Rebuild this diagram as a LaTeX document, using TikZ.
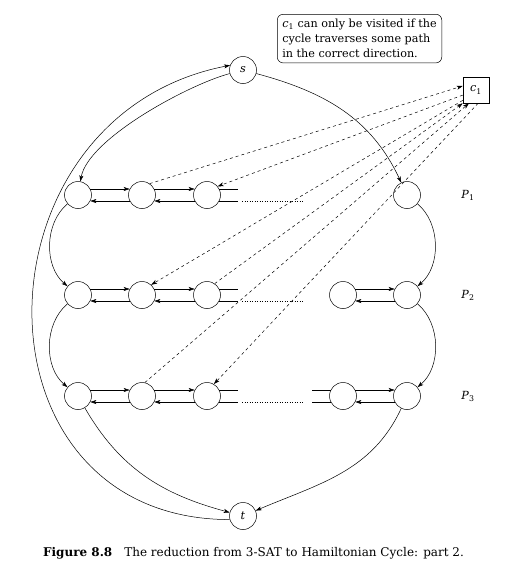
\documentclass[tikz,border=0pt]{standalone}
\usepackage{fontspec}
\setmainfont{DejaVu Serif}
\usepackage{amsmath}
\usepackage{tikz}
\usetikzlibrary{%
	arrows.meta,%
	calc%
}

\begin{document}
\begin{tikzpicture}[x=1pt,y=1pt,line width=0.5pt,
	>={Stealth[length=6pt,width=4pt,inset=1.5pt]},
	vtx/.style={draw,circle,minimum size=27pt,inner sep=0pt},
	font=\fontsize{11.2}{15}\selectfont]
	\useasboundingbox (0,0) rectangle (507,-579);
	
	% Source s and sink t
	\node[vtx] (s) at (243,-70) {\textit{s}};
	\node[vtx] (t) at (243,-516) {\textit{t}};
	
	% Clause node and remark
	\node[draw,minimum size=26pt,inner sep=0pt] (c1) at (476,-90) {\textit{c}\textsubscript{1}};
	\node[draw,rounded corners=6pt,align=left,inner sep=5pt,anchor=north west] (note) at (277,-14)
		{\textit{c}\textsubscript{1} can only be visited if the\\cycle traverses some path\\in the correct direction.};
	
	% Rows P_1, P_2, P_3
	\foreach \row/\y in {1/-195,2/-295,3/-396} {
		\node[vtx] (p\row a) at (78,\y) {};
		\node[vtx] (p\row b) at (142,\y) {};
		\node[vtx] (p\row c) at (207,\y) {};
		\node[vtx] (p\row e) at (407,\y) {};
		\node (lab\row) at (468,\y) {\textit{P}\textsubscript{\row}};
		\draw[->] (p\row a.26) -- (p\row b.154);
		\draw[->] (p\row b.206) -- (p\row a.334);
		\draw[->] (p\row b.26) -- (p\row c.154);
		\draw[->] (p\row c.206) -- (p\row b.334);
		\draw (p\row c.26) -- ++(19,0);
		\draw (p\row c.334) -- ++(19,0);
		\draw[dotted] (242,\y-6) -- (304,\y-6);
	}
	\foreach \row/\y in {2/-295,3/-396} {
		\node[vtx] (p\row d) at (343,\y) {};
		\draw[->] (p\row d.26) -- (p\row e.154);
		\draw[->] (p\row e.206) -- (p\row d.334);
	}
	\draw (p3d.154) -- ++(-19,0);
	\draw (p3d.206) -- ++(-19,0);
	
	% Links between the rows
	\foreach \i/\j in {1/2,2/3} {
		\draw[->] (p\i a) to[out=220,in=140,looseness=0.95] (p\j a);
		\draw[->] (p\i e) to[out=-40,in=40,looseness=0.95] (p\j e);
	}
	
	% From s into the first row, from the last row into t
	\draw[->] (s) to[out=195,in=80,looseness=0.6] (p1a);
	\draw[->] (s) to[out=-15,in=115] (p1e);
	\draw[->] (t.195) to[out=180,in=191,looseness=1.5] (s.160);
	\draw[->] (p3a) to[out=-60,in=165] (t);
	\draw[->] (p3e) to[out=-115,in=23] (t);
	
	% Edges to and from c_1
	\draw[dashed,->] (p1b.56) -- (c1.163);
	\draw[dashed,->] (c1.201) -- (p1c.39);
	\draw[dashed,->] (c1.218) -- (p2b.48);
	\draw[dashed,->] (p2c.56) -- (c1.south west);
	\draw[dashed,->] (p3b.78) -- (c1.242);
	\draw[dashed,->] (c1.279) -- (p3c.60);
	
	% Caption
	\node[font=\fontsize{12}{15}\selectfont] (cap) at (253.5,-553)
		{\textbf{Figure 8.8}\quad The reduction from 3-SAT to Hamiltonian Cycle: part 2.};
\end{tikzpicture}
\end{document}
